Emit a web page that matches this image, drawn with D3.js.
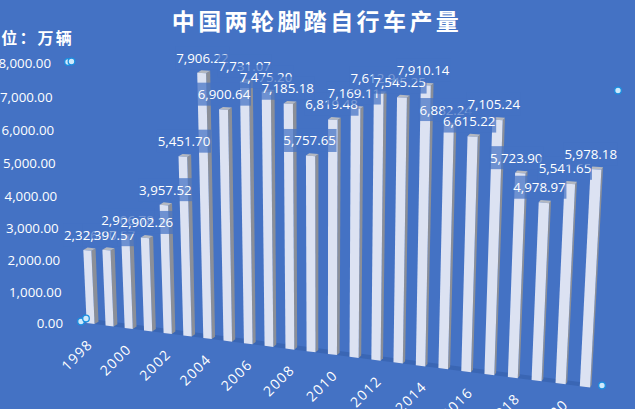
<!DOCTYPE html>
<html><head><meta charset="utf-8">
<script src="https://cdn.jsdelivr.net/npm/d3@7"></script>
<style>html,body{margin:0;padding:0;background:#4472c4;overflow:hidden}svg{display:block}</style>
</head><body><svg id="c" width="635" height="409"></svg>
<script>
const years = ["1998","1999","2000","2001","2002","2003","2004","2005","2006","2007","2008","2009","2010","2011","2012","2013","2014","2015","2016","2017","2018","2019","2020","2021"];
const output = [2326.00,2397.57,2906.78,2902.26,3957.52,5451.70,7906.22,6900.64,7731.07,7475.20,7185.18,5757.65,6819.48,7169.11,7612.94,7545.25,7910.14,6882.24,6615.22,7105.24,5723.90,4978.97,5541.65,5978.18];
const xTickYears = ["1998","2000","2002","2004","2006","2008","2010","2012","2014","2016","2018","2020"];
const titleText = "中国两轮脚踏自行车产量";
const unitText = "单位：万辆";

const svg = d3.select("#c");
const BG="#4472c4";
// Perspective plane corners: [u,v] 00,10,11,01
const Q=[[82,322.5],[602,389],[618,92.5],[70,62.5]];
function homography(q){
  const [x0,y0]=q[0],[x1,y1]=q[1],[x2,y2]=q[2],[x3,y3]=q[3];
  const dx1=x1-x2,dx2=x3-x2,sx=x0-x1+x2-x3,dy1=y1-y2,dy2=y3-y2,sy=y0-y1+y2-y3;
  const D=dx1*dy2-dx2*dy1,g=(sx*dy2-dx2*sy)/D,h=(dx1*sy-sx*dy1)/D;
  const a=x1-x0+g*x1,b=x3-x0+h*x3,d=y1-y0+g*y1,e=y3-y0+h*y3;
  return (u,v)=>{const w=g*u+h*v+1;return [(a*u+b*v+x0)/w,(d*u+e*v+y0)/w];};
}
const P=homography(Q);
const xs=d3.scaleBand().domain(years).range([0.0102,0.98]).paddingInner(0.58).paddingOuter(0);
const ys=d3.scaleLinear().domain([0,8000]).range([0,1]);
const off=(u,v)=>[(4-2.6*u)*(1+0.25*v),-2.4];
const shift=(p,o)=>[p[0]+o[0],p[1]+o[1]];
const poly=pts=>"M"+pts.map(p=>p[0].toFixed(2)+","+p[1].toFixed(2)).join("L")+"Z";
const bars=years.map((y,i)=>({y,val:output[i],u0:xs(y),u1:xs(y)+xs.bandwidth(),v:ys(output[i])}));

// floor strip
const f0=xs(years[0]),f1=xs(years[years.length-1])+xs.bandwidth();
svg.append("path").attr("fill","#3a66b4")
  .attr("d",poly([P(f0,0),P(f1,0),shift(P(f1,0),[1,-4]),shift(P(f0,0),[4,-4])]));

const g=svg.append("g").selectAll("g").data(bars).join("g");
g.append("path").attr("fill","#8b8f98").attr("d",d=>{
  const a=P(d.u1,0),b=P(d.u1,d.v);
  return poly([a,b,shift(b,off(d.u1,d.v)),shift(a,off(d.u1,0))]);});
g.append("path").attr("fill","#b4b8c0").attr("d",d=>{
  const a=P(d.u0,d.v),b=P(d.u1,d.v);
  return poly([a,b,shift(b,off(d.u1,d.v)),shift(a,off(d.u0,d.v))]);});
g.append("path").attr("fill","#dce2f2").attr("d",d=>poly([P(d.u0,0),P(d.u1,0),P(d.u1,d.v),P(d.u0,d.v)]));

// y axis labels
const font="'Open Sans',sans-serif";
svg.append("g").selectAll("text").data(ys.ticks(8)).join("text")
  .attr("x",d=>P(0,ys(d))[0]-19).attr("y",d=>P(0,ys(d))[1]+0.3)
  .attr("text-anchor","end").attr("dominant-baseline","central")
  .attr("fill","#fff").attr("font-family",font).attr("font-size",13.3)
  .text(d3.format(",.2f"));

// x axis labels
const byYear=new Map(bars.map(b=>[b.y,b]));
svg.append("g").selectAll("text").data(xTickYears).join("text")
  .attr("transform",y=>{const b=byYear.get(y),p=P((b.u0+b.u1)/2,0);
    return `translate(${p[0]-14+6*b.u0},${p[1]+31}) rotate(-45)`;})
  .attr("text-anchor","middle").attr("dominant-baseline","central")
  .attr("fill","#fff").attr("font-family",font).attr("font-size",14).attr("letter-spacing",1.3)
  .text(d=>d);

// data labels, with translucent background, later ones over earlier ones
const fmt=d3.format(",.2f");
const lab=svg.append("g").selectAll("g").data(bars).join("g")
  .attr("transform",d=>{const p=P((d.u0+d.u1)/2,d.v);return `translate(${p[0]+3-8.5*d.u0},${p[1]-15.5})`;});
lab.append("rect").attr("x",-27).attr("y",-11.5).attr("width",54).attr("height",23).attr("fill",BG).attr("fill-opacity",0.72);
lab.append("text").attr("text-anchor","middle").attr("dominant-baseline","central")
  .attr("fill","#fff").attr("font-family",font).attr("font-size",13.3).text(d=>fmt(d.val));

// Title and unit
svg.append("text").attr("x",317).attr("y",20).attr("text-anchor","middle").attr("dominant-baseline","central")
  .attr("fill","#fff").attr("font-family","'Noto Sans CJK SC'").attr("font-weight","bold")
  .attr("font-size",23).attr("letter-spacing",3.4).text(titleText);
svg.append("text").attr("x",-17).attr("y",37).attr("dominant-baseline","central")
  .attr("fill","#fff").attr("font-family","'Noto Sans CJK SC'").attr("font-weight","bold")
  .attr("font-size",16).attr("letter-spacing",2.2).text(unitText);

// rotation handles at the plane corners
const handles=[[0,1,-2,-0.5],[0,1,1.5,-1],[0,0,-1,-1],[0,0,4,-4],[1,1,0,-2],[1,0,0,-3.5]];
svg.append("g").selectAll("circle").data(handles).join("circle")
  .attr("cx",d=>P(d[0],d[1])[0]+d[2]).attr("cy",d=>P(d[0],d[1])[1]+d[3])
  .attr("r",3.3).attr("fill","#cfeafc").attr("stroke","#1a8fe0").attr("stroke-width",1.3);
</script></body></html>
